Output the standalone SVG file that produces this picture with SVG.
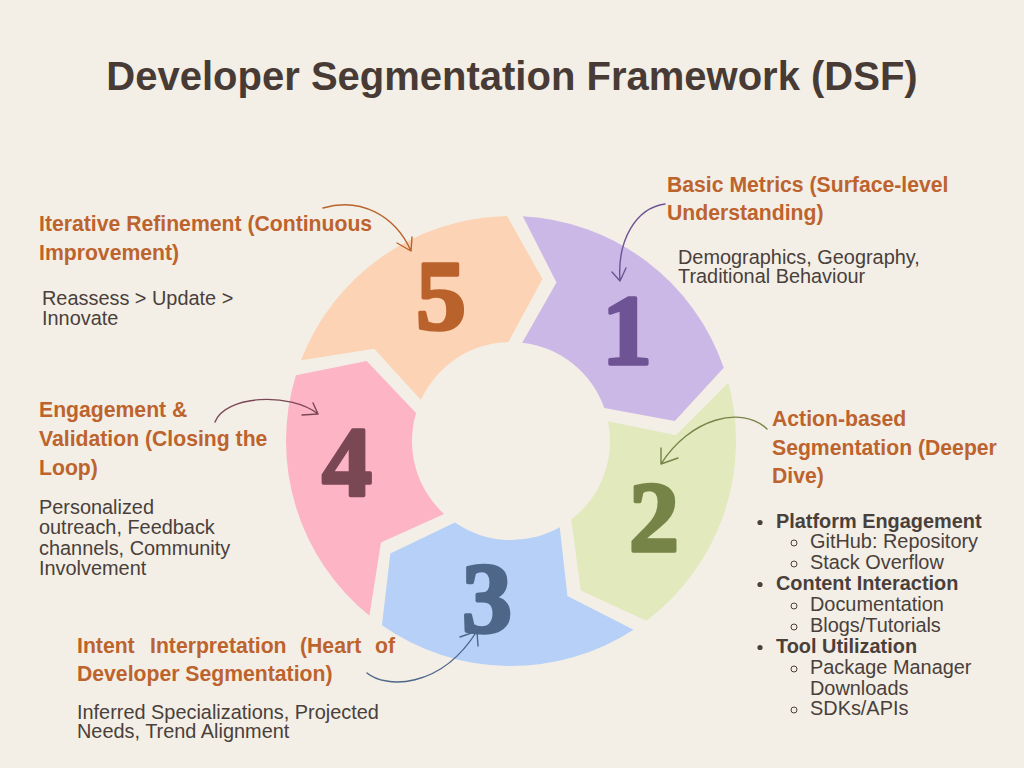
<svg xmlns="http://www.w3.org/2000/svg" width="1024" height="768" viewBox="0 0 1024 768">
<defs>
<style>
.title{font-family:"Liberation Sans",Arial,sans-serif;font-weight:bold;font-size:40px;fill:#483B35}
.head{font-family:"Liberation Sans",Arial,sans-serif;font-weight:bold;font-size:21.2px;fill:#BD632D}
.body{font-family:"Liberation Sans",Arial,sans-serif;font-size:19.9px;fill:#4A403B}
.bold{font-weight:bold}
.num{font-family:"Liberation Serif","Times New Roman",serif;font-weight:bold;font-size:100px;text-anchor:middle;stroke-width:3.5;stroke-linejoin:round}
.conn{fill:none;stroke-width:1.4;stroke-linecap:round;stroke-linejoin:round}
.sub{fill:none;stroke:#4A403B;stroke-width:1}
</style>
<path id="seg" d="M522.78,216.31 A225,225 0 0 1 723.74,367.75 L674.77,420.89 L604.32,407.95 A99,99 0 0 0 522.21,342.64 L556.48,282.39 Z"/>
</defs>
<rect width="1024" height="768" fill="#F3EFE6"/>
<text class="title" x="512" y="90" text-anchor="middle">Developer Segmentation Framework (DSF)</text>

<g id="node1">
<use href="#seg" fill="#CCB8E7"/>
<text class="num" x="627" y="364" fill="#6E5494" stroke="#6E5494">1</text>
<text class="head" x="667" y="192">Basic Metrics (Surface-level</text>
<text class="head" x="667" y="220">Understanding)</text>
<text class="body" x="678" y="264">Demographics, Geography,</text>
<text class="body" x="678" y="283">Traditional Behaviour</text>
</g>

<g id="node2">
<use href="#seg" fill="#E1E9BD" transform="rotate(72 511 441)"/>
<text class="num" x="654" y="550" fill="#778447" stroke="#778447">2</text>
<text class="head" x="772" y="426">Action-based</text>
<text class="head" x="772" y="455">Segmentation (Deeper</text>
<text class="head" x="772" y="483">Dive)</text>
<circle cx="760" cy="522.5" r="2.6" fill="#4A403B"/>
<circle cx="760" cy="584.5" r="2.6" fill="#4A403B"/>
<circle cx="760" cy="647.5" r="2.6" fill="#4A403B"/>
<circle class="sub" cx="794" cy="543" r="3"/>
<circle class="sub" cx="794" cy="564" r="3"/>
<circle class="sub" cx="794" cy="606" r="3"/>
<circle class="sub" cx="794" cy="627" r="3"/>
<circle class="sub" cx="794" cy="669" r="3"/>
<circle class="sub" cx="794" cy="710" r="3"/>
<text class="body bold" x="776" y="528">Platform Engagement</text>
<text class="body" x="810" y="548">GitHub: Repository</text>
<text class="body" x="810" y="569">Stack Overflow</text>
<text class="body bold" x="776" y="590">Content Interaction</text>
<text class="body" x="810" y="611">Documentation</text>
<text class="body" x="810" y="632">Blogs/Tutorials</text>
<text class="body bold" x="776" y="653">Tool Utilization</text>
<text class="body" x="810" y="674">Package Manager</text>
<text class="body" x="810" y="695">Downloads</text>
<text class="body" x="810" y="715">SDKs/APIs</text>
</g>

<g id="node3">
<use href="#seg" fill="#B6D0F7" transform="rotate(144 511 441)"/>
<text class="num" x="487" y="631" fill="#4E6789" stroke="#4E6789">3</text>
<text class="head" y="653"><tspan x="77">Intent</tspan><tspan x="150">Interpretation</tspan><tspan x="300">(Heart</tspan><tspan x="375">of</tspan></text>
<text class="head" x="77" y="681">Developer Segmentation)</text>
<text class="body" x="77" y="719">Inferred Specializations, Projected</text>
<text class="body" x="77" y="738">Needs, Trend Alignment</text>
</g>

<g id="node4">
<use href="#seg" fill="#FDB5C6" transform="rotate(216 511 441)"/>
<text class="num" x="347" y="495" fill="#7A4754" stroke="#7A4754">4</text>
<text class="head" x="39" y="417">Engagement &amp;</text>
<text class="head" x="39" y="446">Validation (Closing the</text>
<text class="head" x="39" y="475">Loop)</text>
<text class="body" x="39" y="514">Personalized</text>
<text class="body" x="39" y="534">outreach, Feedback</text>
<text class="body" x="39" y="555">channels, Community</text>
<text class="body" x="39" y="575">Involvement</text>
</g>

<g id="node5">
<use href="#seg" fill="#FCD3B4" transform="rotate(288 511 441)"/>
<text class="num" x="441" y="329" fill="#BA622B" stroke="#BA622B">5</text>
<text class="head" x="39" y="231">Iterative Refinement (Continuous</text>
<text class="head" x="39" y="260">Improvement)</text>
<text class="body" x="42" y="305">Reassess &gt; Update &gt;</text>
<text class="body" x="42" y="325">Innovate</text>
</g>

<g id="connectors">
<path class="conn" stroke="#6E5494" d="M665,204 C636,208 617,240 620,281 M612,272 L620,281 L626,268"/>
<path class="conn" stroke="#778447" d="M767,429 C742,405 690,418 661,464 M661,448 L661,464 L678,458"/>
<path class="conn" stroke="#4E6789" d="M367,673 C385,688 440,690 477,631 M460,637 L477,631 L478,646"/>
<path class="conn" stroke="#7A4754" d="M215,422 C225,395 290,392 318,414 M313,403 L318,414 L302,415"/>
<path class="conn" stroke="#BA622B" d="M323,208 C360,197 395,215 411,251 M397,243 L411,251 L412,237"/>
</g>
</svg>
